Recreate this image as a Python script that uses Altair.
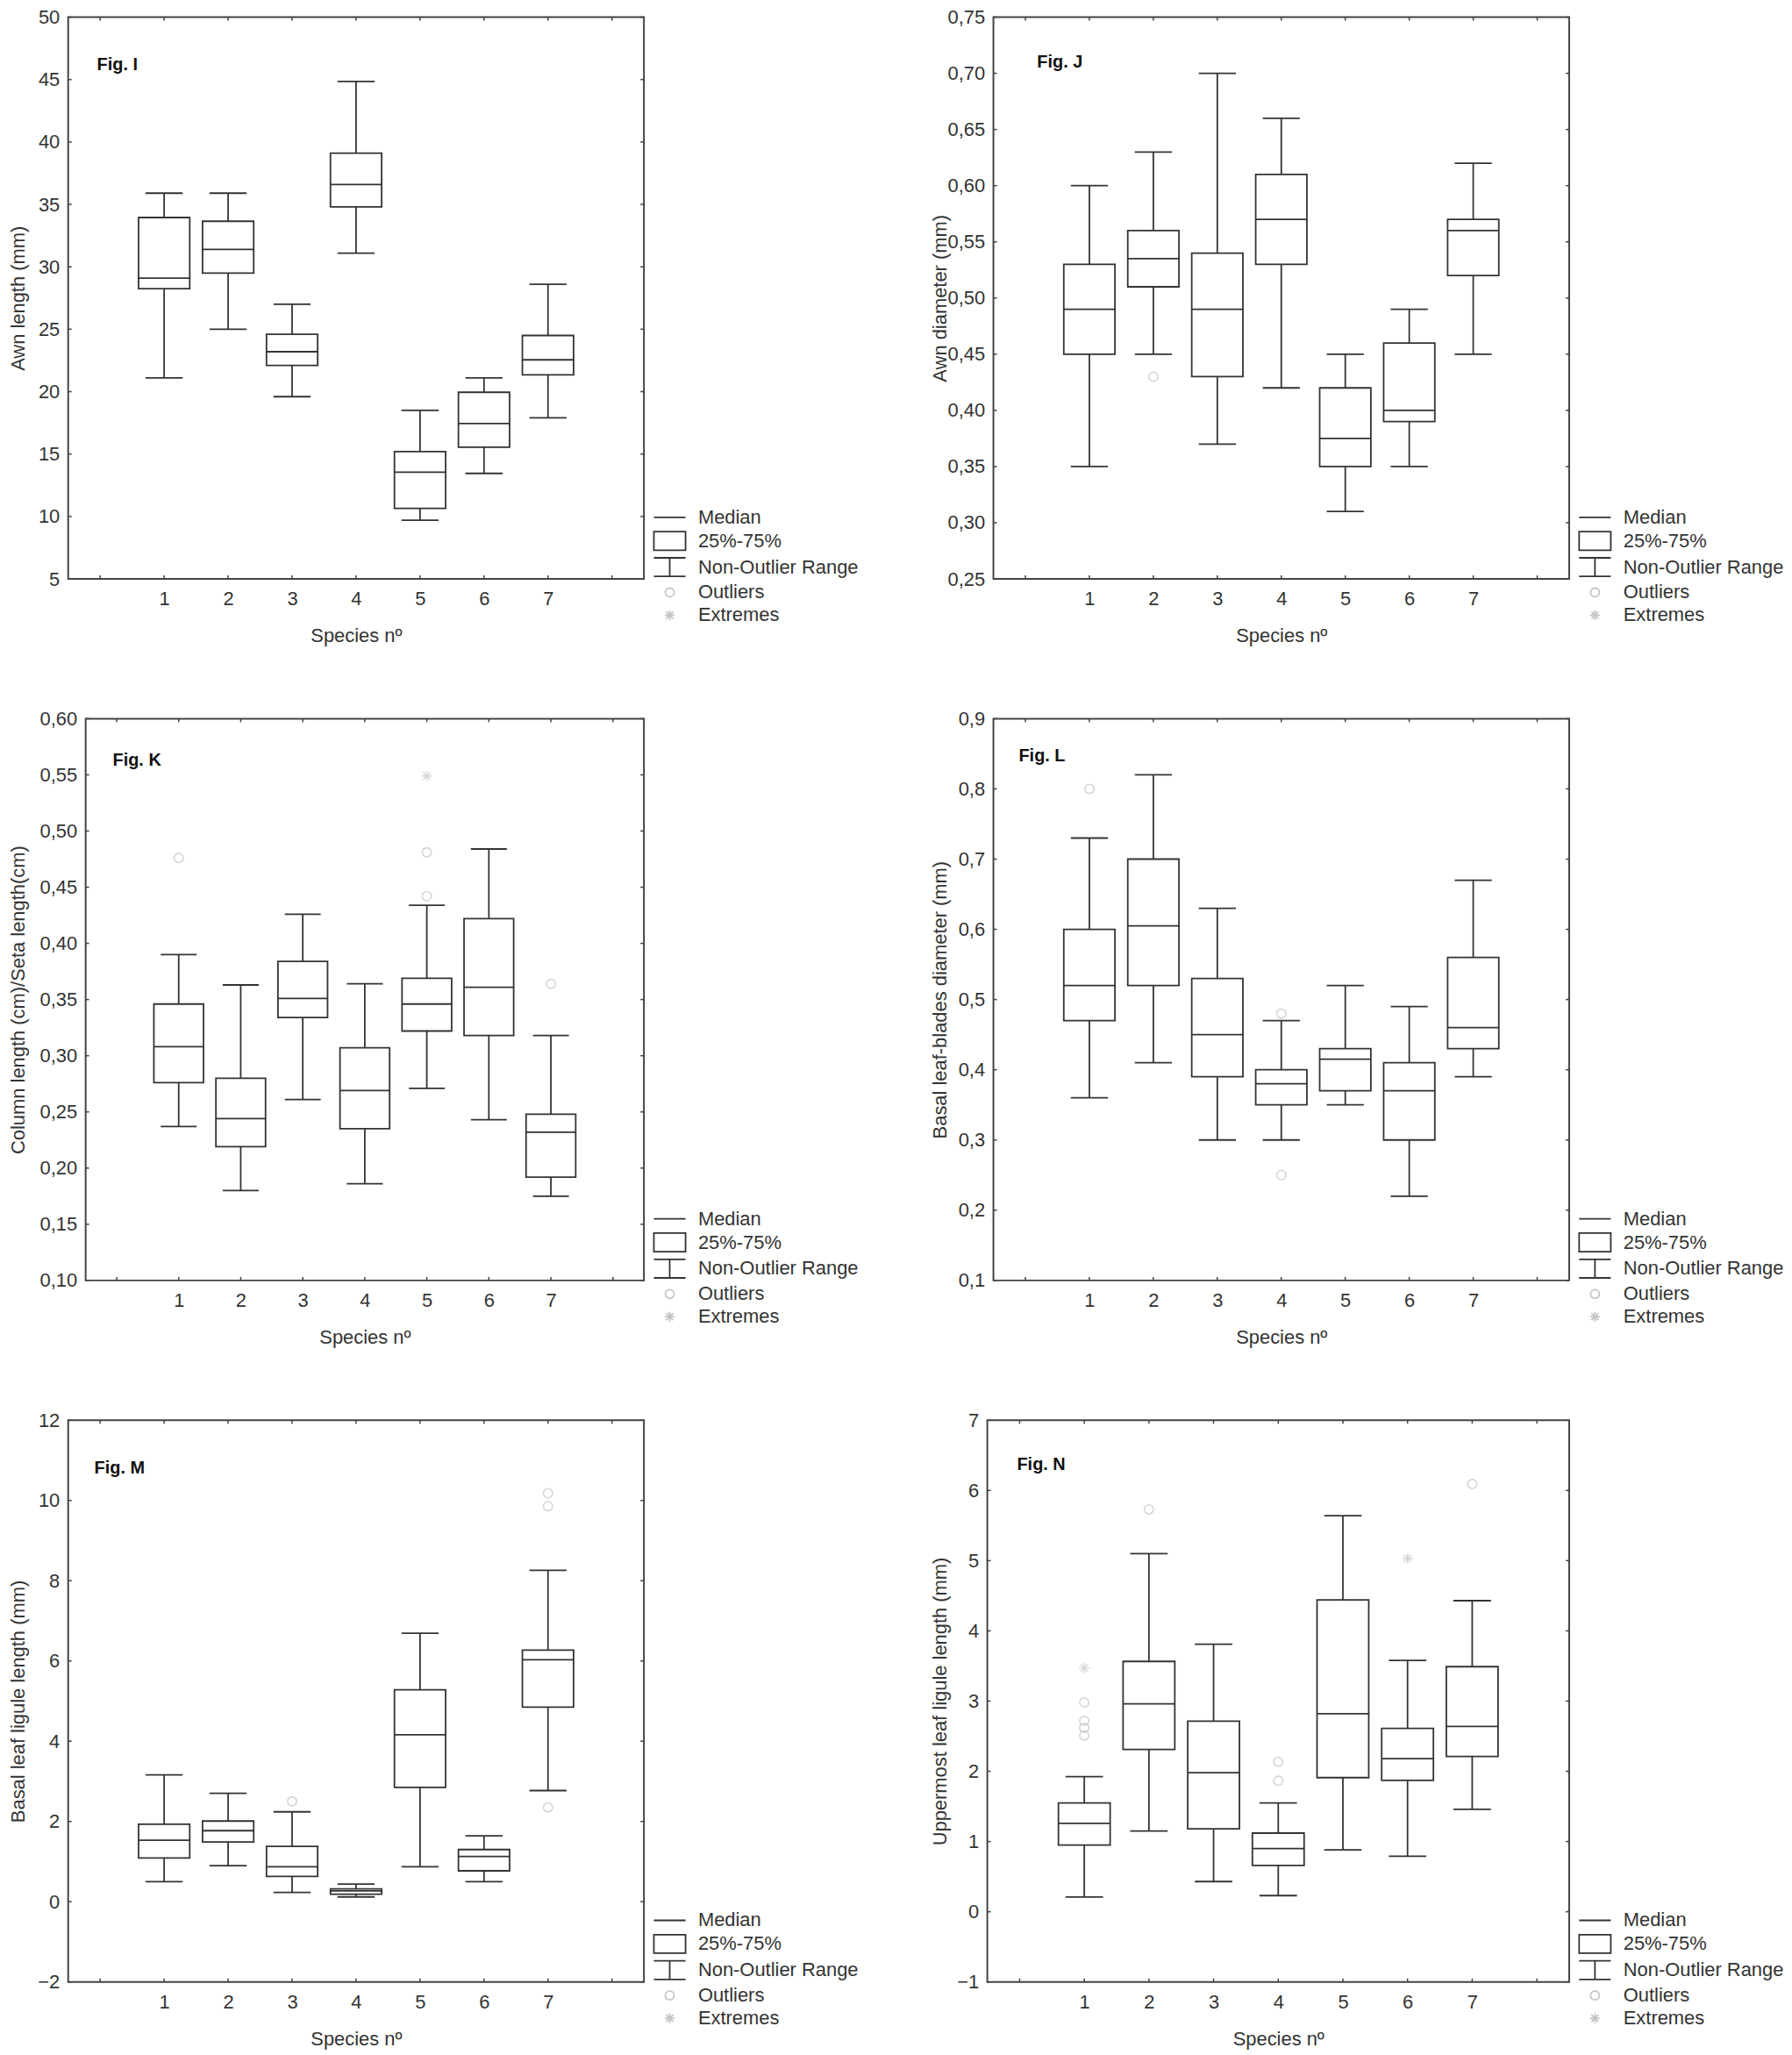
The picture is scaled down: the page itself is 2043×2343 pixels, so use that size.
import altair as alt
import pandas as pd

FONT = "Liberation Sans"
INK = "#333333"
FRAME = "#444444"
GRAY = "#c4c4c4"
FS = 22

species = [1, 2, 3, 4, 5, 6, 7]
x_ticks = [0, 1, 2, 3, 4, 5, 6, 7, 8]

# ---------------- Fig. I : Awn length (mm)
I_lo = [21.1, 25.0, 19.6, 31.1, 9.7, 13.45, 17.9]
I_q1 = [28.25, 29.5, 22.1, 34.8, 10.65, 15.55, 21.35]
I_med = [29.1, 31.4, 23.2, 36.6, 13.55, 17.45, 22.55]
I_q3 = [33.95, 33.65, 24.6, 39.1, 15.2, 19.95, 24.5]
I_hi = [35.9, 35.9, 27.0, 44.85, 18.5, 21.1, 28.6]
I_out_sp, I_out_v = [], []
I_ext_sp, I_ext_v = [], []
I_ticks = [5, 10, 15, 20, 25, 30, 35, 40, 45, 50]

# ---------------- Fig. J : Awn diameter (mm)
J_lo = [0.35, 0.45, 0.37, 0.42, 0.31, 0.35, 0.45]
J_q1 = [0.45, 0.51, 0.43, 0.53, 0.35, 0.39, 0.52]
J_med = [0.49, 0.535, 0.49, 0.57, 0.375, 0.40, 0.56]
J_q3 = [0.53, 0.56, 0.54, 0.61, 0.42, 0.46, 0.57]
J_hi = [0.60, 0.63, 0.70, 0.66, 0.45, 0.49, 0.62]
J_out_sp, J_out_v = [2], [0.43]
J_ext_sp, J_ext_v = [], []
J_ticks = [0.25, 0.30, 0.35, 0.40, 0.45, 0.50, 0.55, 0.60, 0.65, 0.70, 0.75]

# ---------------- Fig. K : Column length / Seta length
K_lo = [0.237, 0.180, 0.261, 0.186, 0.271, 0.243, 0.175]
K_q1 = [0.276, 0.219, 0.334, 0.235, 0.322, 0.318, 0.192]
K_med = [0.308, 0.244, 0.351, 0.269, 0.346, 0.361, 0.232]
K_q3 = [0.346, 0.280, 0.384, 0.307, 0.369, 0.422, 0.248]
K_hi = [0.390, 0.363, 0.426, 0.364, 0.434, 0.484, 0.318]
K_out_sp, K_out_v = [1, 5, 5, 7], [0.476, 0.481, 0.442, 0.364]
K_ext_sp, K_ext_v = [5], [0.549]
K_ticks = [0.10, 0.15, 0.20, 0.25, 0.30, 0.35, 0.40, 0.45, 0.50, 0.55, 0.60]

# ---------------- Fig. L : Basal leaf-blades diameter (mm)
L_lo = [0.36, 0.41, 0.30, 0.30, 0.35, 0.22, 0.39]
L_q1 = [0.47, 0.52, 0.39, 0.35, 0.37, 0.30, 0.43]
L_med = [0.52, 0.605, 0.45, 0.38, 0.415, 0.37, 0.46]
L_q3 = [0.60, 0.70, 0.53, 0.40, 0.43, 0.41, 0.56]
L_hi = [0.73, 0.82, 0.63, 0.47, 0.52, 0.49, 0.67]
L_out_sp, L_out_v = [1, 4, 4], [0.80, 0.48, 0.25]
L_ext_sp, L_ext_v = [], []
L_ticks = [0.1, 0.2, 0.3, 0.4, 0.5, 0.6, 0.7, 0.8, 0.9]

# ---------------- Fig. M : Basal leaf ligule length (mm)
M_lo = [0.50, 0.90, 0.23, 0.12, 0.87, 0.50, 2.77]
M_q1 = [1.09, 1.49, 0.63, 0.19, 2.85, 0.77, 4.85]
M_med = [1.53, 1.77, 0.87, 0.27, 4.16, 1.13, 6.03]
M_q3 = [1.93, 2.01, 1.38, 0.32, 5.28, 1.30, 6.27]
M_hi = [3.16, 2.70, 2.24, 0.44, 6.69, 1.64, 8.26]
M_out_sp, M_out_v = [3, 7, 7, 7], [2.50, 10.18, 9.86, 2.35]
M_ext_sp, M_ext_v = [], []
M_ticks = [-2, 0, 2, 4, 6, 8, 10, 12]

# ---------------- Fig. N : Uppermost leaf ligule length (mm)
N_lo = [0.21, 1.15, 0.43, 0.23, 0.88, 0.79, 1.46]
N_q1 = [0.95, 2.31, 1.18, 0.66, 1.91, 1.87, 2.21]
N_med = [1.26, 2.96, 1.98, 0.90, 2.82, 2.18, 2.64]
N_q3 = [1.55, 3.565, 2.715, 1.12, 4.44, 2.61, 3.49]
N_hi = [1.925, 5.10, 3.81, 1.55, 5.64, 3.58, 4.43]
N_out_sp, N_out_v = [1, 1, 1, 1, 2, 4, 4, 7], [2.98, 2.72, 2.62, 2.51, 5.73, 2.135, 1.865, 6.09]
N_ext_sp, N_ext_v = [1, 6], [3.47, 5.03]
N_ticks = [-1, 0, 1, 2, 3, 4, 5, 6, 7]

legend_labels = ["Median", "25%-75%", "Non-Outlier Range", "Outliers", "Extremes"]
legend_shapes = [
    "M-1.45,0H1.45",
    "M-1.45,-0.85H1.45V0.85H-1.45Z",
    "M-1.45,-0.85H1.45M0,-0.85V0.85M-1.45,0.85H1.45",
    "M0.4,0A0.4,0.4,0,1,1,-0.4,0A0.4,0.4,0,1,1,0.4,0",
    "M-0.45,0H0.45M0,-0.45V0.45M-0.32,-0.32L0.32,0.32M-0.32,0.32L0.32,-0.32",
]
legend_colors = [INK, INK, INK, GRAY, GRAY]

AST = "M-1,0H1M0,-1V1M-0.7,-0.7L0.7,0.7M-0.7,0.7L0.7,-0.7"

H = 643
TL = 4  # inward tick length


def panel(lo, q1, med, q3, hi, osp, ov, esp, ev, ticks, fmt, ytitle, fig,
          width, title_x, fig_x, fig_y):
    df = pd.DataFrame(dict(species=species, lo=lo, q1=q1, med=med, q3=q3, hi=hi))
    base = alt.Chart(df).transform_calculate(
        bl="datum.species - 0.4", br="datum.species + 0.4",
        cl="datum.species - 0.29", cr="datum.species + 0.29")
    xs = alt.Scale(domain=[-0.5, 8.5], nice=False, zero=False)
    ys = alt.Scale(domain=[min(ticks), max(ticks)], nice=False, zero=False)
    ylab = "replace(format(datum.value, '%s'), '.', ',')" % fmt

    x_bottom = alt.Axis(values=x_ticks, orient="bottom", ticks=False, tickSize=0,
                        labelPadding=13, title="Species nº", titlePadding=21,
                        labelExpr="datum.value >= 1 && datum.value <= 7 ? datum.label : ''")
    y_left = alt.Axis(values=ticks, orient="left", ticks=False, tickSize=0,
                      labelPadding=10, labelExpr=ylab, title=ytitle,
                      titleX=title_x, titleBaseline="middle")

    whisk = base.mark_rule(color=INK, strokeWidth=1.8).encode(
        x=alt.X("species:Q", scale=xs, axis=x_bottom),
        y=alt.Y("lo:Q", scale=ys, axis=y_left),
        y2="hi:Q")
    cap_lo = base.mark_rule(color=INK, strokeWidth=1.8).encode(
        x=alt.X("cl:Q", scale=xs, axis=None), x2="cr:Q",
        y=alt.Y("lo:Q", scale=ys, axis=None))
    cap_hi = base.mark_rule(color=INK, strokeWidth=1.8).encode(
        x=alt.X("cl:Q", scale=xs, axis=None), x2="cr:Q",
        y=alt.Y("hi:Q", scale=ys, axis=None))
    box = base.mark_rect(fill="white", stroke=INK, strokeWidth=1.8).encode(
        x=alt.X("bl:Q", scale=xs, axis=None), x2="br:Q",
        y=alt.Y("q1:Q", scale=ys, axis=None), y2="q3:Q")
    median = base.mark_rule(color=INK, strokeWidth=1.8).encode(
        x=alt.X("bl:Q", scale=xs, axis=None), x2="br:Q",
        y=alt.Y("med:Q", scale=ys, axis=None))

    # small inward tick marks on all four sides of the frame
    xt = alt.Chart(pd.DataFrame(dict(t=x_ticks)))
    yt = alt.Chart(pd.DataFrame(dict(t=ticks)))
    tk = dict(color=FRAME, strokeWidth=1.5)
    t_bot = xt.mark_rule(**tk).encode(x=alt.X("t:Q", scale=xs, axis=None),
                                      y=alt.value(H - TL), y2=alt.value(H))
    t_top = xt.mark_rule(**tk).encode(x=alt.X("t:Q", scale=xs, axis=None),
                                      y=alt.value(0), y2=alt.value(TL))
    t_lft = yt.mark_rule(**tk).encode(y=alt.Y("t:Q", scale=ys, axis=None),
                                      x=alt.value(0), x2=alt.value(TL))
    t_rgt = yt.mark_rule(**tk).encode(y=alt.Y("t:Q", scale=ys, axis=None),
                                      x=alt.value(width - TL), x2=alt.value(width))

    layers = [whisk, box, median, cap_lo, cap_hi, t_bot, t_top, t_lft, t_rgt]

    if osp:
        odf = pd.DataFrame(dict(species=osp, v=ov))
        layers.append(alt.Chart(odf).mark_point(
            shape="circle", size=110, filled=False, color=GRAY, strokeWidth=1.6).encode(
            x=alt.X("species:Q", scale=xs, axis=None),
            y=alt.Y("v:Q", scale=ys, axis=None)))
    if esp:
        edf = pd.DataFrame(dict(species=esp, v=ev))
        layers.append(alt.Chart(edf).mark_point(
            shape=AST, size=144, filled=False, color=GRAY, strokeWidth=1.4).encode(
            x=alt.X("species:Q", scale=xs, axis=None),
            y=alt.Y("v:Q", scale=ys, axis=None)))

    leg = dict(title=None, orient="none", legendX=width + 16, legendY=559,
               symbolSize=625, symbolStrokeWidth=1.8, symbolOpacity=1,
               labelFont=FONT, labelFontSize=FS, labelColor=INK, labelLimit=400,
               labelOffset=19, rowPadding=1, padding=0)
    ldf = pd.DataFrame(dict(lab=legend_labels))
    layers.append(alt.Chart(ldf).mark_point(filled=False, opacity=0).encode(
        shape=alt.Shape("lab:N", scale=alt.Scale(domain=legend_labels, range=legend_shapes),
                        legend=alt.Legend(**leg)),
        stroke=alt.Stroke("lab:N", scale=alt.Scale(domain=legend_labels, range=legend_colors),
                          legend=alt.Legend(**leg))))

    fdf = pd.DataFrame(dict(t=[fig]))
    layers.append(alt.Chart(fdf).mark_text(
        align="left", baseline="middle", font=FONT, fontSize=20,
        fontWeight="bold", color="#111111").encode(
        text="t:N", x=alt.value(fig_x), y=alt.value(fig_y)))

    return alt.layer(*layers).resolve_axis(
        x="independent", y="independent"
    ).properties(width=width, height=H)


def spacer():
    return alt.Chart(pd.DataFrame(dict(s=[0]))).mark_point(
        opacity=0, size=0, strokeWidth=0
    ).encode(
        x=alt.value(0), y=alt.value(0)
    ).properties(width=1, height=1, view=alt.ViewBackground(strokeOpacity=0))


def cell(p):
    # a 1px anchor keeps each panel placed by its own outer extent
    return alt.hconcat(spacer(), p, spacing=0).resolve_scale(
        shape="independent", stroke="independent"
    ).resolve_legend(shape="independent", stroke="independent")


pI = panel(I_lo, I_q1, I_med, I_q3, I_hi, I_out_sp, I_out_v, I_ext_sp, I_ext_v,
           I_ticks, "d", "Awn length (mm)", "Fig. I", 659, -57, 33, 55)
pJ = panel(J_lo, J_q1, J_med, J_q3, J_hi, J_out_sp, J_out_v, J_ext_sp, J_ext_v,
           J_ticks, ".2f", "Awn diameter (mm)", "Fig. J", 659, -61, 50, 52)
pK = panel(K_lo, K_q1, K_med, K_q3, K_hi, K_out_sp, K_out_v, K_ext_sp, K_ext_v,
           K_ticks, ".2f", "Column length (cm)/Seta length(cm)", "Fig. K", 639, -77, 31, 48)
pL = panel(L_lo, L_q1, L_med, L_q3, L_hi, L_out_sp, L_out_v, L_ext_sp, L_ext_v,
           L_ticks, ".1f", "Basal leaf-blades diameter (mm)", "Fig. L", 659, -61, 29, 43)
pM = panel(M_lo, M_q1, M_med, M_q3, M_hi, M_out_sp, M_out_v, M_ext_sp, M_ext_v,
           M_ticks, "d", "Basal leaf ligule length (mm)", "Fig. M", 659, -57, 30, 55)
pN = panel(N_lo, N_q1, N_med, N_q3, N_hi, N_out_sp, N_out_v, N_ext_sp, N_ext_v,
           N_ticks, "d", "Uppermost leaf ligule length (mm)", "Fig. N", 666, -54, 34, 51)

chart = alt.concat(
    cell(pI), cell(pJ), cell(pK), cell(pL), cell(pM), cell(pN),
    columns=2, align="none",
    spacing={"row": 71, "column": 79},
).resolve_scale(
    shape="independent", stroke="independent"
).resolve_legend(
    shape="independent", stroke="independent"
).properties(
    padding={"top": -5, "left": 0, "right": 0, "bottom": 0}
).configure_view(
    stroke=FRAME, strokeWidth=2
).configure_axis(
    labelFont=FONT, labelFontSize=FS, labelColor=INK,
    titleFont=FONT, titleFontSize=FS, titleFontWeight="normal", titleColor=INK,
    grid=False, domain=False,
)

chart.save("out.html", embed_options={"renderer": "svg", "actions": False})
